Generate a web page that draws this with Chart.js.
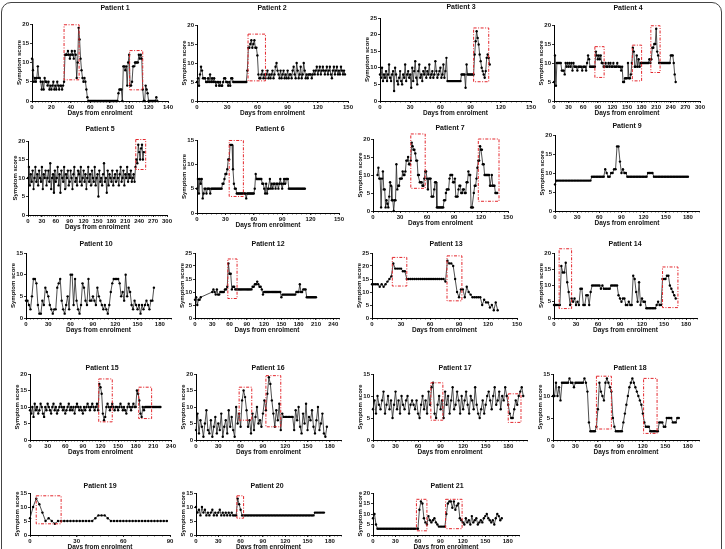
<!DOCTYPE html>
<html>
<head>
<meta charset="utf-8">
<script src="https://cdn.jsdelivr.net/npm/chart.js@4.4.0/dist/chart.umd.min.js"></script>
<style>
  html, body { margin: 0; padding: 0; background: #fff; }
  body { width: 725px; height: 549px; position: relative; overflow: hidden; }
  #frame { position: absolute; left: 1px; top: 2px; width: 719px; height: 580px;
           border: 1.5px solid #444; border-radius: 10px; }
  canvas { position: absolute; }
</style>
</head>
<body>
<div id="frame"></div>
<script>
// ---- data: one score per reading, readings every `step` days (null = no reading) ----
const p1Step = 1;
const p1Scores = [11,8,5,6,5,6,9,6,6,5, 3,5,3,6,5,5,4,5,3,4, 3,4,5,3,4,3,5,4,3,4,
  4,3,4,5,12,12,12,13,12,11, 12,13,12,11,13,12,6,10,19,16, 11,8,6,5,6,5,3,1,0,0,
  0,0,0,0,0,0,0,0,0,0, 0,0,0,0,0,0,0,0,0,0, 0,0,0,0,0,0,0,0,0,2,
  3,3,3,0,9,9,8,9,4,10, 12,4,4,5,9,9,10,10,10,10, 12,11,12,11,3,0,0,4,3,2, 0,0,0,0,0,0,0,0,1,0];
const p1Boxes = [[33, 48.5, 5.5, 19.8], [100.5, 114, 2.9, 13.1]];

const p2Step = 1;
const p2Scores = [5,6,4,7,9,8,6,6,6,5, 5,6,5,7,5,6,5,6,5,4, 5,5,4,5,4,4,5,6,6,5,
  5,4,5,4,6,6,5,5,5,5,5,5, 5,5,5,5,5,5,5,5, 8,14,14,15,16,14,15,16,14,14,12,7,6,
  6,7,8,6,7,6,7,8,6,7,6,7,8,6,7,9,10, 8,7,6,8,6,7,8,6,7,6,8,6,7,7,6,8,9,7,6,10,
  8,6,7,9,6,7,10,8,6,7,6,7,7,7,6,7,8,7,8,9, 7,8,9,7,8,9,8,7,8,9,7,8,9,7,6,8,9,7,8,9,7,8,7,9,8,7,8,7];
const p2Boxes = [[50.7, 68, 5.3, 17.6]];

const p3Step = 1;
const p3Scores = [8,7,10,6,8,7,9,6,8,11, 7,6,8,9,3,10,8,6,5,7, 9,6,5,8,7,11,6,8,9,7,
  8,4,10,6,9,12,7,5,9,11, 7,8,6,9,8,10,7,9,8,11, 7,8,9,7,8,12,9,7,8,9,
  10,7,8,11,7,9,13, 6,6,6,6,6,6,6,6,6,6,6,6,6,6, 8,8,8,8,4,11,8,8,8,
  8,8,8,8,14,18,21,19,17,14, 12,10,9,8,7,9,13,14,13,11];
const p3Boxes = [[93, 108, 5.8, 22]];

const p4Step = 2;
const p4Scores = [5,12,4,10,10,10,10,10,8,8, 8,7,10,9,10,9,10,9,10,8, 10,9,9,9,8,9,9,9,9,8,
  9,9,9,8,10,12,11,9,9,9, 9,9,9,13,12,11,12,11,12,10, 10,9,9,10,9,9,10,9,10,9,
  9,10,9,9,9,10,9,9,9,8, 9,5,5,6,6,6,10,6,6,7, 10,14,13,9,9,12,9,11,9,10,
  10,10,10,10,10,10,10,10,11,10, 11,14,14,15,15,19,13,12,10,10, 10,10,10,10,10,10,10,10,10,10,
  12,12,12,10,7,5];
const p4Boxes = [[84, 103, 6.2, 14.3], [161, 180, 5.3, 14.7], [199, 218, 7.5, 19.8]];

const p5Step = 2;
const p5Scores = [10,13,8,11,9,12,7,10,13,9, 11,8,12,10,9,13,7,11,10,12,
  8,10,12,9,14,7,10,11,6,12, 9,10,13,8,11,6,12,10,9,13, 7,11,10,12,8,9,12,10,7,11,
  13,9,10,8,12,11,9,13,8,10, 12,9,11,7,10,13,9,11,8,12, 10,9,13,8,10,11,5,12,9,10,
  8,11,14,9,10,6,12,8,11,10, 9,12,8,10,11,9,12,10,8,11, 13,9,10,12,8,11,10,13,9,11,
  10,12,9,10,11,9, 13,15,14,19,17,15,18,19,15,17];
const p5Boxes = [[232.6, 254, 12.3, 20.4]];

const p6Step = 1;
const p6Scores = [5,7,4,7,6,7,3,4,5,5, 4,5,5,5,4,5,5,5,5,5, 5,5,5,5,5,5,5,6,6,7,
  8,8,9,11,11,14,14,14,9,6, 5,5,4,4,4,4,4,4,4,4, 4,4,3,4,4,4,4,4,4,4,
  4,5,8,7,7,7,7,7,7,6, 6,5,4,6,4,5,5,7,5,6, 5,6,6,5,6,6,5,6,7,6,
  5,6,7,6,7,7,7,5,5,5, 5,5,5,5,5,5,5,5,5,5,5,5,5,5,5];
const p6Boxes = [[34, 49, 3.4, 14.9]];

const p7Step = 1;
const p7Scores = [null,null,null,null,null, 10,12,9,9,1, 9,11,6,6,1,3,2,1,4,8,
  7,3,3,0,3,3,13,6,7,7, 9,9,9,11,10,10,11,14,14,15, 13,13,14,19,18,17,17,16,14,14,
  10,10,8,8,8,7,7,9,11,11, 9,6,9,9,9,4,4,4,6,8, 8,1,1,1,1,1,1,1,1,3,
  3,5,6,6,6,9,10,10,10,8, 8,9,4,4,4,6,7,7,5,5, 6,6,5,5,8,8,11,10,10,1,
  1,1,5,7,7,9,12,14,14,18, 17,17,13,13,10,10,10,10,10,10, 7,7,10,7,7,7,5,5,5];
const p7Boxes = [[42, 58, 6.3, 21.4], [117, 140, 2.7, 20]];

const p9Step = 2;
const p9Scores = [7, 8,8,8,8,8,8,8,8,8,8,8,8,8,8,8,8,8,8,8,8,8,8,8,8,
  9,9,9,9,9,9,9,9,9, 11,10,9,9,10,10,11,11,17,17,13,10,11,10, 10,
  9,9,9,9,9,9,9,9,9,9,9,9,9,9, 10,10,10,10,
  9,9,9,9,9,9,9,9,9,9,9,9,9,9,9,9,9,9,9,9,9,9,9,9];
const p9Boxes = [];

const p10Step = 2;
const p10Scores = [4,4,3,2,5,9,9,8,3,1, 1,4,3,7,6,5,3,2,1,2, 2,7,8,9,4,2,1,3,5,2,
  10,10,3,9,4,2,1,3,8,7, 4,3,9,4,4,5,4,3,7,5, 4,3,2,3,2,1,3,6,8,9,
  9,9,9,8,5,6,4,10,5,7, 6,3,2,4,3,2,3,1,3,2, 3,4,3,2,4,4,7];
const p10Boxes = [];

const p12Step = 2;
const p12Scores = [7,8,5,7,7,8, null,null,null,null,null,null,null,null,null,
  10,11,10,9,11,9,9,10,10,10,10,11,11,12,21,17,17,11,12,12,11,
  11,11,11,11,11,11,11,11,11,11,11,11,11,11, 12,12,13,13,14,13,12,12,11,9,
  10,10,10,10,10,10,10,10,10,10,10,10,10,10,10, 8,9,9,9,9,9,9,9,9,9,9,9,9,
  10,10,10,13,10,10,11,11,11,8,8,8,8,8,8,8,8,8];
const p12Boxes = [[57, 73, 7.5, 22.7]];

const p13Step = 2;
const p13Scores = [13,13,13,13,12,13,12,13,14,15, 16,21,19,19,19,19,18,18,15,
  15,15,15,15,15,15,15,15,15,15,15,15,15,15,15,15,15,15,15,
  14,22,21,21,20,15,10,8,11,11,8,12,10,9,8,8,8,8,8,5,7,6,6,4,5,3,6,3];
const p13Boxes = [[21, 36, 12.3, 23.3], [77.6, 93, 6.6, 23.9]];

const p14Step = 2;
const p14Scores = [4,4,4,4,4,16,14,14,17,11, 8,4,6,5,6,4,5,4,9,9, 4,4,7,7,4,8,10,10,10,10,
  10,10,9,10,9,9,9,9,9,10, 10,10,10,10,7,6,5,6,6,4, 4,5,4,4,13,12,8,5,11,4,
  6,5,5,3,3,3,3,3,3,3, 4,5,4,4,12,12,12,13,13,10, 9,8,7,6];
const p14Boxes = [[7, 24, 2.9, 21.3], [148, 169, 3.2, 15.7]];

const p15Step = 2;
const p15Scores = [9,8,10,7,11,9,10,8,9,11, 10,8,7,10,9,11,10,9,8,10, 11,9,10,8,9,10,11,10,9,10,
  8,9,10,11,9,10,9,10,8,10, 11,10,9,10,9,8,10,9,10,11, 10,9,10,11,10,9,10,11,9,17,
  16,14,8,6,7,10,11,10,9,10, 11,10,9,10,10,9,10,11,10,9, 10,9,8,10,11,10,9,10,11,10,
  10,15,14,12,8,7,10,9,10,10, 10,10,10,10,10,10,10,10,10,10, 10,10];
const p15Boxes = [[117, 140, 5.5, 18.5], [185, 207, 6.5, 16]];

const p16Step = 2;
const p16Scores = [3,8,2,6,4,1,5,9,3,2, 6,1,4,7,2,5,3,8,1,4, 6,2,9,4,7,3,1,10,5,8,
  4,12,15,13,9,4,6,2,8,3, 7,10,5,6,4,8,12,9,14,19, 17,12,8,4,9,6,11,3,8,7,
  7,7,7,7,7,7,3,9,6,10, 4,2,8,5,11,3,7,6,9,4, 2,6,10,3,5,8,2,1,4];
const p16Boxes = [[58, 75, 6, 16], [94, 114, 4, 19.5]];

const p17Step = 2;
const p17Scores = [7,9,6,10,8,7,9,11,6,8, 10,7,9,5,8,11,7,9,6,10, 8,7,9,10,6,8,9,8,7,9,
  6,5,8,10,7,9,6,11,8,12, 13,6,5,8,10,7,9,5,11,8, 10,6,9,12,7,8,11,9,6,10,
  7,9,11,8,6,10,9,7,12,8, 6,5,7,9,6,8,10,11,9,7, 10,12,8,9,11,7,10,9,12,10,
  8,6,5,5,7,9,8,10,11,12,10];
const p17Boxes = [[77, 93, 4.5, 13], [180, 197, 4, 10.5]];

const p18Step = 2;
const p18Scores = [10,10,13,10,12,9,13,13,13,13, 13,14,13,13,12,13,13,13,13,13, 13,14,13,11,4,2,2,2,2,3,
  7,13,11,10,9,13,14,13,12,11, 5,3,2,2,2,2,2,4,6,8, 10,12,13,14,13,12,11,10,9,8,
  6,4,3,3,3,2,2,2,2,2, 2,4,4,4,3,3,5,5,5,5, 4,4,4,5,5];
const p18Boxes = [[58, 78, 2.5, 14.5], [121, 139, 1.5, 14]];

const p19Step = 2;
const p19Scores = [6,10,13,11,8,5,6,5,4,5, 5,5,5,5,5,5,5,5,5,5, 5,6,7,7,7,6,5,5,5,5,
  5,5,5,5,5,5,5,5,5,5, 5,5,5,5,5];
const p19Boxes = [[4, 20, 4, 14]];

const p20Step = 2;
const p20Scores = [10,8,9,7,10,8,9,7,8,7, 8,9,7,8,7,8,9,7,8,7, 8,7,8,7,8,7,7,7,13,11,
  9,7,7,7,7,7,7,7,7,7, 7,7,7,7,7,7,7,7,7,7, 7,7,7,7,7,7,7,7,7,7,
  7,7,7,7,7,7,7,7,7,7, 7,7,7,7,7,7,7,7,7,7, 8,8,8,8,8,8,8];
const p20Boxes = [[55, 64, 6, 14]];

const p21Step = 2;
const p21Scores = [8,10,5,3,3,3,3,3,3,3, 3,3,3,3,3,3,3,3,3,3, 3,3,3,3,3,3,3,3,3,3,
  3,12,16,15,8,6,5,9,7,6, 7,8,6,5,4,4,4,4,4,10, 15,16,16,13,16,12,14,15,8,7,
  6,5,8,6,7,5,9,6,7,8, 5,6,7,6,8,9,10,8,7,6, 7,5,8,10,9,7,8];
const p21Boxes = [[58, 72, 2, 17], [97, 119, 3, 17]];

// ---- layout ----
const FONT = '"Liberation Sans", Arial, sans-serif';
const panels = [
  {t:'Patient 1',  s:p1Scores,  st:p1Step,  b:p1Boxes,  xMax:140, xs:20, yMax:20, ax:32,  x1:168, tx:115, ty:8,   yt:24,  y0:101},
  {t:'Patient 2',  s:p2Scores,  st:p2Step,  b:p2Boxes,  xMax:150, xs:30, yMax:20, ax:197, x1:348, tx:272, ty:8,   yt:25,  y0:101},
  {t:'Patient 3',  s:p3Scores,  st:p3Step,  b:p3Boxes,  xMax:150, xs:30, yMax:25, ax:380, x1:531, tx:461, ty:7,   yt:18,  y0:101},
  {t:'Patient 4',  s:p4Scores,  st:p4Step,  b:p4Boxes,  xMax:300, xs:30, yMax:20, ax:554, x1:700, tx:628, ty:8,   yt:25,  y0:101},
  {t:'Patient 5',  s:p5Scores,  st:p5Step,  b:p5Boxes,  xMax:300, xs:30, yMax:20, ax:28,  x1:167, tx:100, ty:129, yt:141, y0:215},
  {t:'Patient 6',  s:p6Scores,  st:p6Step,  b:p6Boxes,  xMax:150, xs:30, yMax:15, ax:197, x1:339, tx:270, ty:129, yt:140, y0:213},
  {t:'Patient 7',  s:p7Scores,  st:p7Step,  b:p7Boxes,  xMax:150, xs:30, yMax:20, ax:373, x1:508, tx:450, ty:128, yt:139, y0:211},
  {t:'Patient 9',  s:p9Scores,  st:p9Step,  b:p9Boxes,  xMax:195, xs:30, yMax:20, ax:555, x1:699, tx:627, ty:126, yt:135, y0:211},
  {t:'Patient 10', s:p10Scores, st:p10Step, b:p10Boxes, xMax:195, xs:30, yMax:15, ax:26,  x1:171, tx:96,  ty:244, yt:253, y0:318},
  {t:'Patient 12', s:p12Scores, st:p12Step, b:p12Boxes, xMax:250, xs:30, yMax:25, ax:195, x1:339, tx:268, ty:244, yt:253, y0:318},
  {t:'Patient 13', s:p13Scores, st:p13Step, b:p13Boxes, xMax:150, xs:30, yMax:25, ax:372, x1:517, tx:446, ty:244, yt:253, y0:318},
  {t:'Patient 14', s:p14Scores, st:p14Step, b:p14Boxes, xMax:195, xs:30, yMax:20, ax:554, x1:697, tx:625, ty:244, yt:253, y0:318},
  {t:'Patient 15', s:p15Scores, st:p15Step, b:p15Boxes, xMax:240, xs:30, yMax:20, ax:30,  x1:171, tx:102, ty:368, yt:374, y0:440},
  {t:'Patient 16', s:p16Scores, st:p16Step, b:p16Boxes, xMax:195, xs:30, yMax:20, ax:196, x1:341, tx:268, ty:368, yt:374, y0:440},
  {t:'Patient 17', s:p17Scores, st:p17Step, b:p17Boxes, xMax:205, xs:30, yMax:15, ax:373, x1:527, tx:455, ty:368, yt:374, y0:440},
  {t:'Patient 18', s:p18Scores, st:p18Step, b:p18Boxes, xMax:195, xs:30, yMax:15, ax:553, x1:699, tx:630, ty:368, yt:374, y0:440},
  {t:'Patient 19', s:p19Scores, st:p19Step, b:p19Boxes, xMax:90,  xs:30, yMax:15, ax:30,  x1:170, tx:100, ty:486, yt:493, y0:535},
  {t:'Patient 20', s:p20Scores, st:p20Step, b:p20Boxes, xMax:195, xs:30, yMax:15, ax:196, x1:341, tx:267, ty:486, yt:493, y0:535},
  {t:'Patient 21', s:p21Scores, st:p21Step, b:p21Boxes, xMax:195, xs:30, yMax:20, ax:373, x1:519, tx:447, ty:486, yt:493, y0:535}
];

const Y_W = 16, X_H = 16, PAD_R = 8;

panels.forEach(p => {
  const cv = document.createElement('canvas');
  const left = Math.round(p.ax - Y_W);
  const top = Math.round(p.ty - 6);
  const w = Math.round(p.x1 + PAD_R) - left;
  const h = Math.round(p.y0 + X_H) - top;
  cv.width = w; cv.height = h;
  cv.style.left = left + 'px';
  cv.style.top = top + 'px';
  document.body.appendChild(cv);

  const pts = p.s.map((v, i) => ({x: i * p.st, y: v}));
  const tickFont = {family: FONT, size: 6, weight: 'bold'};
  const axisStyle = {
    grid: {drawOnChartArea: false, drawTicks: true, tickLength: 2, color: '#000', lineWidth: 0.8},
    border: {color: '#000', width: 1}
  };

  const extras = {
    id: 'extras',
    afterDraw(chart) {
      const {ctx, scales: {x, y}} = chart;
      ctx.save();
      // panel title
      ctx.fillStyle = '#111';
      ctx.font = 'bold 7px ' + FONT;
      ctx.textAlign = 'center';
      ctx.textBaseline = 'middle';
      ctx.fillText(p.t, p.tx - left, p.ty - top);
      // minor ticks along the x axis
      ctx.strokeStyle = '#000';
      ctx.lineWidth = 0.6;
      const minor = p.xs / 6;
      for (let v = 0; v <= p.xMax + 1e-6; v += minor) {
        const px = Math.round(x.getPixelForValue(v)) + 0.5;
        ctx.beginPath();
        ctx.moveTo(px, y.bottom);
        ctx.lineTo(px, y.bottom + 1.5);
        ctx.stroke();
      }
      // red dash-dot highlight boxes
      ctx.strokeStyle = '#e3262c';
      ctx.lineWidth = 1;
      ctx.setLineDash([3, 1.5, 1, 1.5]);
      p.b.forEach(bx => {
        const l = x.getPixelForValue(bx[0]), r = x.getPixelForValue(bx[1]);
        const t = y.getPixelForValue(bx[3]), bt = y.getPixelForValue(bx[2]);
        ctx.strokeRect(l, t, r - l, bt - t);
      });
      ctx.restore();
    }
  };

  new Chart(cv, {
    type: 'line',
    data: {
      datasets: [{
        data: pts,
        borderColor: '#222',
        borderWidth: 0.8,
        pointRadius: 1.2,
        pointBackgroundColor: '#000',
        pointBorderWidth: 0,
        spanGaps: true,
        clip: false,
        tension: 0
      }]
    },
    options: {
      responsive: false,
      animation: false,
      layout: {padding: {left: 0, right: PAD_R, top: p.yt - top, bottom: 0}},
      plugins: {legend: {display: false}, tooltip: {enabled: false}},
      scales: {
        x: {
          type: 'linear', min: 0, max: p.xMax,
          afterFit(s) { s.height = X_H; },
          ticks: {stepSize: p.xs, includeBounds: false, autoSkip: false, maxRotation: 0,
                  padding: 1, color: '#111', font: tickFont},
          title: {display: true, text: 'Days from enrolment', color: '#111', padding: 0,
                  font: {family: FONT, size: 6.5, weight: 'bold'}},
          ...axisStyle
        },
        y: {
          min: 0, max: p.yMax,
          afterFit(s) { s.width = Y_W; },
          ticks: {stepSize: 5, padding: 1, color: '#111', font: tickFont},
          title: {display: true, text: 'Symptom score', color: '#111', padding: 0,
                  font: {family: FONT, size: 6, weight: 'bold'}},
          ...axisStyle
        }
      }
    },
    plugins: [extras]
  });
});
</script>
</body>
</html>
